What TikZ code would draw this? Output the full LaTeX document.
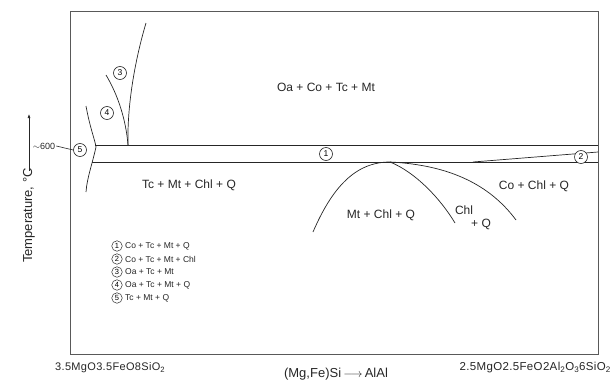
\documentclass[tikz,border=0pt]{standalone}
\usepackage{fontspec}
\setmainfont{Liberation Sans}
\usetikzlibrary{arrows.meta}
\begin{document}
\begin{tikzpicture}[x=1pt,y=-1pt,
  ln/.style={line width=0.7pt, draw=black!85},
  frm/.style={line width=0.6pt, draw=black!65},
  lbl/.style={font=\fontsize{12}{14}\selectfont, inner sep=0pt, text=black!85},
  cnum/.style={circle, draw=black!85, line width=0.6pt, fill=white, inner sep=0pt, minimum size=13pt, font=\fontsize{8.5}{9}\selectfont},
  lnum/.style={circle, draw=black!85, line width=0.5pt, inner sep=0pt, minimum size=10.5pt, font=\fontsize{7.5}{8}\selectfont},
  leg/.style={font=\fontsize{8.5}{9}\selectfont, anchor=west, inner sep=0pt, text=black!85}]
\useasboundingbox (0,0) rectangle (613,383);
\draw[frm] (70,11) rectangle (598,354);
% band
\coordinate (b1) at (95,145);
\coordinate (b2) at (598,145);
\coordinate (b3) at (92,162);
\coordinate (b4) at (598,162);
\coordinate (w1) at (473,162);
\coordinate (w2) at (598,152);
\draw[ln] (b1) -- (b2);
\draw[ln] (b3) -- (b4);
\draw[ln] (w1) -- (w2);
% curve 5
\draw[ln] (86,106) .. controls (90,128) and (95,140) .. (96,147) .. controls (92,165) and (87,178) .. (86,192);
% curves 3 and 4
\draw[ln] (106,75) .. controls (118,95) and (126,120) .. (128,145);
\draw[ln] (146,23) .. controls (135,60) and (127,105) .. (128,145);
% dome and Chl curves
\draw[ln] (313,232) .. controls (332,188) and (355,162) .. (390,162);
\draw[ln] (390,162) .. controls (415,172) and (440,198) .. (455,223);
\draw[ln] (390,162) .. controls (450,165) and (490,185) .. (516,220);
% circled numbers
\node[cnum] (c1) at (326,154) {1};
\node[cnum] (c2) at (581,157) {2};
\node[cnum] (c3) at (120,73) {3};
\node[cnum] (c4) at (107,113) {4};
\node[cnum] (c5) at (80,150) {5};
% field labels
\node[lbl] (f1) at (326,87) {Oa + Co + Tc + Mt};
\node[lbl] (f2) at (189,185) {Tc + Mt + Chl + Q};
\node[lbl] (f3) at (381,215) {Mt + Chl + Q};
\node[lbl] (f4) at (464,210) {Chl};
\node[lbl] (f5) at (481,224) {+ Q};
\node[lbl] (f6) at (534,186) {Co + Chl + Q};
% legend
\foreach \i/\t [count=\k from 0] in {1/Co + Tc + Mt + Q, 2/Co + Tc + Mt + Chl, 3/Oa + Tc + Mt, 4/Oa + Tc + Mt + Q, 5/Tc + Mt + Q}{
  \node[lnum] (l\i) at (117,246+13*\k) {\i};
  \node[leg] (t\i) at (125,246+13*\k) {\t};
}
% axis labels
\node[font=\fontsize{13}{14}\selectfont, rotate=90, anchor=east, inner sep=0pt, text=black!85] (ylab) at (29,168) {Temperature, °C};
\coordinate (ytop) at (29,114);
\draw[line width=0.6pt, draw=black!85, -{Latex[length=4pt,width=3pt]}] ([yshift=-3pt]ylab.east) -- (ytop);
\node[font=\fontsize{9}{10}\selectfont, inner sep=1pt, text=black!85] (t600) at (44,146) {$\sim$600};
\draw[line width=0.6pt, draw=black!85] (t600.east) -- (c5.west);
\node[font=\fontsize{11}{12}\selectfont\addfontfeature{LetterSpace=3}, anchor=west, inner sep=0pt, text=black!85] (xl) at (55,368) {3.5MgO3.5FeO8SiO\textsubscript{2}};
\node[font=\fontsize{13}{14}\selectfont, inner sep=0pt, text=black!85] (xm) at (336,374) {(Mg,Fe)Si\,$\longrightarrow$\,AlAl};
\node[font=\fontsize{11.5}{12}\selectfont\addfontfeature{LetterSpace=3}, anchor=east, inner sep=0pt, text=black!85] (xr) at (611,368) {2.5MgO2.5FeO2Al\textsubscript{2}O\textsubscript{3}6SiO\textsubscript{2}};
\end{tikzpicture}
\end{document}
